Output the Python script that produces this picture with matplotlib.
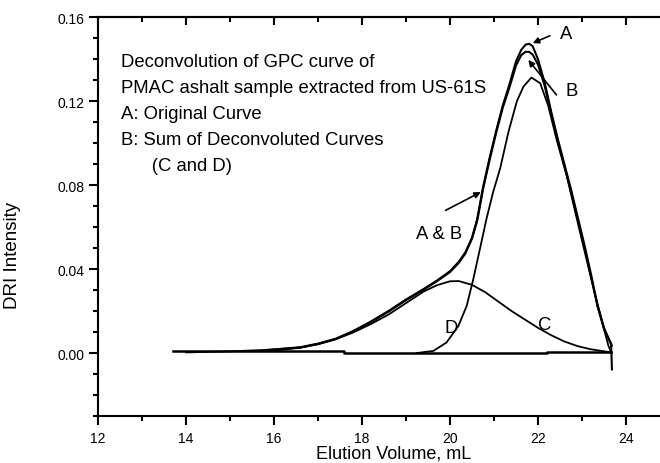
import numpy as np
import matplotlib
matplotlib.use('Agg')
import matplotlib.pyplot as plt
from matplotlib.ticker import MultipleLocator, FormatStrFormatter

plt.rcParams['font.family'] = ['Liberation Sans', 'DejaVu Sans']

# 曲线数据
# A: 原始曲线
a_x = [15.9, 16.6, 17.0, 17.4, 17.8, 18.2, 18.6, 19.0, 19.4, 19.7, 20.0, 20.2, 20.35,
       20.5, 20.62, 20.75, 20.9, 21.05, 21.2, 21.35, 21.5, 21.62, 21.72, 21.8, 21.88,
       22.0, 22.15, 22.3, 22.45, 22.6, 22.75, 22.9, 23.05, 23.2, 23.35, 23.5, 23.6,
       23.66, 23.67, 23.68]
a_y = [0.0015, 0.0028, 0.0045, 0.0068, 0.0105, 0.0150, 0.0200, 0.0255, 0.0305, 0.0345,
       0.0390, 0.0435, 0.0480, 0.0550, 0.0640, 0.0790, 0.0930, 0.1060, 0.1180, 0.1280,
       0.1390, 0.1445, 0.1470, 0.1474, 0.1462, 0.1400, 0.1290, 0.1150, 0.1020, 0.0900,
       0.0780, 0.0650, 0.0520, 0.0380, 0.0230, 0.0120, 0.0072, 0.0045, -0.0010, -0.0078]

# B: 拟合曲线之和
b_x = [16.0, 16.6, 17.0, 17.4, 17.8, 18.2, 18.6, 19.0, 19.4, 19.7, 20.0, 20.2, 20.35,
       20.5, 20.62, 20.75, 20.9, 21.05, 21.2, 21.35, 21.5, 21.62, 21.72, 21.8, 21.88,
       22.0, 22.15, 22.3, 22.45, 22.6, 22.75, 22.9, 23.05, 23.2, 23.35, 23.5, 23.62, 23.68]
b_y = [0.0012, 0.0026, 0.0043, 0.0066, 0.0102, 0.0147, 0.0197, 0.0252, 0.0302, 0.0342,
       0.0386, 0.0430, 0.0475, 0.0545, 0.0632, 0.0780, 0.0920, 0.1050, 0.1170, 0.1265,
       0.1370, 0.1420, 0.1436, 0.1435, 0.1422, 0.1375, 0.1275, 0.1140, 0.1010, 0.0890,
       0.0770, 0.0640, 0.0510, 0.0370, 0.0225, 0.0115, 0.0060, 0.0035]

# C: 宽峰
c_x = [14.0, 15.0, 15.8, 16.6, 17.0, 17.4, 17.8, 18.2, 18.6, 19.0, 19.4, 19.7, 20.0,
       20.2, 20.5, 20.8, 21.1, 21.4, 21.7, 22.0, 22.3, 22.6, 22.9, 23.2, 23.45, 23.67]
c_y = [0.0003, 0.0008, 0.0015, 0.0026, 0.0042, 0.0066, 0.0098, 0.0138, 0.0183, 0.0238,
       0.0293, 0.0323, 0.0342, 0.0343, 0.0325, 0.0290, 0.0245, 0.0200, 0.0160, 0.0120,
       0.0085, 0.0055, 0.0033, 0.0018, 0.0010, 0.0003]

# D: 窄峰
d_x = [19.24, 19.62, 19.92, 20.19, 20.38, 20.53, 20.68, 20.83, 20.98, 21.14, 21.33,
       21.52, 21.67, 21.85, 22.05, 22.23, 22.42, 22.65, 22.95, 23.26, 23.48, 23.6, 23.67]
d_y = [0.0, 0.0010, 0.0050, 0.0129, 0.0225, 0.0353, 0.0496, 0.0640, 0.0767, 0.0880,
       0.1055, 0.1200, 0.1270, 0.1313, 0.1286, 0.1180, 0.1020, 0.0847, 0.0580, 0.0310,
       0.0130, 0.0035, 0.0]

# 基线
base_x = [13.7, 17.6, 17.6, 22.2, 22.2, 23.67]
base_y = [0.001, 0.001, 0.0, 0.0, 0.0007, 0.0007]

info_lines = ['Deconvolution of GPC curve of',
              'PMAC ashalt sample extracted from US-61S',
              'A: Original Curve',
              'B: Sum of Deconvoluted Curves',
              '      (C and D)']

fig = plt.figure(figsize=(6.6, 4.64), dpi=100)
ax = fig.add_axes([98 / 660, 47 / 464, 572 / 660, 398.7 / 464])

ax.plot(base_x, base_y, color='k', lw=1.8)
ax.plot(c_x, c_y, color='k', lw=1.3)
ax.plot(d_x, d_y, color='k', lw=1.3)
ax.plot(b_x, b_y, color='k', lw=1.5)
ax.plot(a_x, a_y, color='k', lw=1.5)

ax.set_xlim(12, 25)
ax.set_ylim(-0.03, 0.16)

# 坐标轴样式
for side in ['left', 'bottom', 'top']:
    ax.spines[side].set_linewidth(1.5)
ax.spines['right'].set_visible(False)

ax.xaxis.set_major_locator(MultipleLocator(2))
ax.xaxis.set_minor_locator(MultipleLocator(1))
ax.yaxis.set_major_locator(MultipleLocator(0.04))
ax.yaxis.set_minor_locator(MultipleLocator(0.01))
ax.yaxis.set_major_formatter(FormatStrFormatter('%.2f'))
ax.tick_params(which='major', direction='out', length=6.5, width=1.5, labelsize=10, pad=3)
ax.tick_params(which='minor', direction='out', length=3.6, width=1.5)
ax.tick_params(axis='x', which='major', pad=4.5)

top = ax.secondary_xaxis('top')
top.xaxis.set_major_locator(MultipleLocator(2))
top.xaxis.set_minor_locator(MultipleLocator(1))
top.tick_params(which='major', direction='in', length=6, width=1.5, labeltop=False)
top.tick_params(which='minor', direction='in', length=3.6, width=1.5)
top.spines['top'].set_linewidth(1.5)

ax.set_xlabel('Elution Volume, mL', fontsize=13, labelpad=0)
ax.xaxis.set_label_coords(0.516, -0.072)
ax.set_ylabel('DRI Intensity', fontsize=13.5)
ax.yaxis.set_label_coords(-0.135, 0.406)

# 说明文字
for i, line in enumerate(info_lines):
    ax.text(12.52, 0.139 - i * 0.01235, line, fontsize=13.3, va='center', ha='left')

arrow = dict(arrowstyle='-|>', color='k', lw=1.2, mutation_scale=9, shrinkA=0, shrinkB=0)
ax.annotate('', xy=(21.88, 0.1477), xytext=(22.27, 0.1512), arrowprops=arrow)
ax.text(22.64, 0.1525, 'A', fontsize=13.3, ha='center', va='center')
ax.annotate('', xy=(21.78, 0.1397), xytext=(22.42, 0.123), arrowprops=arrow)
ax.text(22.77, 0.1252, 'B', fontsize=13.3, ha='center', va='center')
ax.annotate('', xy=(20.7, 0.0767), xytext=(19.9, 0.068), arrowprops=arrow)
ax.text(19.75, 0.0568, 'A & B', fontsize=13.3, ha='center', va='center')
ax.text(20.02, 0.0123, 'D', fontsize=13.3, ha='center', va='center')
ax.text(22.16, 0.0137, 'C', fontsize=13.3, ha='center', va='center')

fig.savefig('out.png', dpi=100)
